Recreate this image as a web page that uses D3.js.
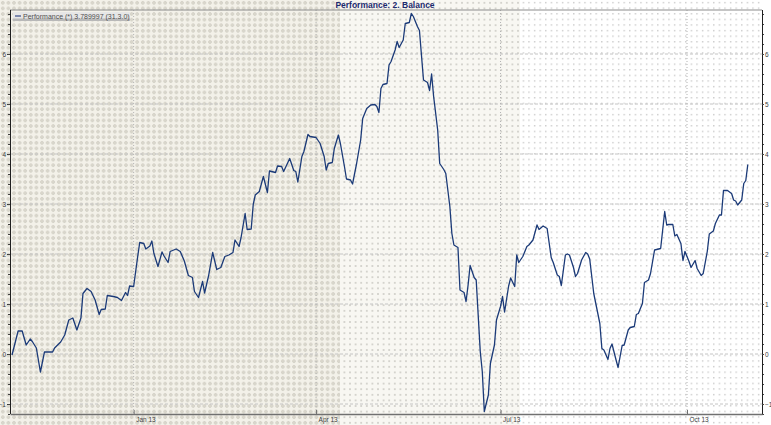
<!DOCTYPE html>
<html>
<head>
<meta charset="utf-8">
<script src="https://cdn.jsdelivr.net/npm/d3@7"></script>
<style>
  body { margin: 0; background: #fff; }
  svg { display: block; font-family: "Liberation Sans", Arial, sans-serif; }
  .axis text { font-size: 6.5px; fill: #404040; }
</style>
</head>
<body>
<svg width="771" height="425"></svg>
<script>
let dates = [
  "2012-11-02","2012-11-05","2012-11-07","2012-11-09","2012-11-11","2012-11-12","2012-11-14","2012-11-16",
  "2012-11-18","2012-11-22","2012-11-23","2012-11-26","2012-11-28","2012-11-30","2012-12-02","2012-12-04",
  "2012-12-06","2012-12-07","2012-12-09","2012-12-11","2012-12-13","2012-12-15","2012-12-16","2012-12-18",
  "2012-12-19","2012-12-22","2012-12-24","2012-12-26","2012-12-28","2012-12-29","2012-12-30","2013-01-01",
  "2013-01-03","2013-01-04","2013-01-06","2013-01-07","2013-01-09","2013-01-10","2013-01-11","2013-01-13",
  "2013-01-15","2013-01-16","2013-01-18","2013-01-19","2013-01-22","2013-01-24","2013-01-26","2013-01-28",
  "2013-01-30","2013-01-31","2013-02-02","2013-02-04","2013-02-05","2013-02-07","2013-02-09","2013-02-11",
  "2013-02-13","2013-02-15","2013-02-17","2013-02-19","2013-02-20","2013-02-22","2013-02-23","2013-02-25",
  "2013-02-26","2013-02-28","2013-03-01","2013-03-02","2013-03-04","2013-03-06","2013-03-08","2013-03-09",
  "2013-03-12","2013-03-13","2013-03-15","2013-03-16","2013-03-19","2013-03-21","2013-03-22","2013-03-23",
  "2013-03-25","2013-03-26","2013-03-28","2013-03-29","2013-04-01","2013-04-03","2013-04-05","2013-04-06",
  "2013-04-07","2013-04-09","2013-04-10","2013-04-12","2013-04-13","2013-04-15","2013-04-16","2013-04-18",
  "2013-04-19","2013-04-21","2013-04-23","2013-04-24","2013-04-26","2013-04-28","2013-04-30","2013-05-01",
  "2013-05-02","2013-05-03","2013-05-04","2013-05-06","2013-05-07","2013-05-08","2013-05-10","2013-05-11",
  "2013-05-12","2013-05-14","2013-05-15","2013-05-17","2013-05-18","2013-05-19","2013-05-21","2013-05-22",
  "2013-05-24","2013-05-26","2013-05-27","2013-05-28","2013-05-29","2013-05-31","2013-06-01","2013-06-03",
  "2013-06-04","2013-06-06","2013-06-07","2013-06-08","2013-06-10","2013-06-11","2013-06-13","2013-06-14",
  "2013-06-15","2013-06-16","2013-06-18","2013-06-19","2013-06-21","2013-06-22","2013-06-23","2013-06-25",
  "2013-06-26","2013-06-28","2013-06-29","2013-07-01","2013-07-02","2013-07-03","2013-07-05","2013-07-06",
  "2013-07-08","2013-07-09","2013-07-10","2013-07-12","2013-07-14","2013-07-15","2013-07-17","2013-07-19",
  "2013-07-20","2013-07-22","2013-07-24","2013-07-26","2013-07-27","2013-07-29","2013-07-30","2013-07-31",
  "2013-08-02","2013-08-03","2013-08-04","2013-08-06","2013-08-07","2013-08-08","2013-08-10","2013-08-12",
  "2013-08-13","2013-08-14","2013-08-16","2013-08-17","2013-08-19","2013-08-20","2013-08-21","2013-08-23",
  "2013-08-24","2013-08-25","2013-08-27","2013-08-28","2013-08-30","2013-08-31","2013-09-02","2013-09-03",
  "2013-09-05","2013-09-06","2013-09-07","2013-09-09","2013-09-10","2013-09-12","2013-09-13","2013-09-15",
  "2013-09-16","2013-09-18","2013-09-20","2013-09-21","2013-09-22","2013-09-24","2013-09-25","2013-09-26",
  "2013-09-28","2013-09-29","2013-09-30","2013-10-02","2013-10-03","2013-10-05","2013-10-06","2013-10-08",
  "2013-10-09","2013-10-11","2013-10-12","2013-10-14","2013-10-15","2013-10-17","2013-10-18","2013-10-19",
  "2013-10-21","2013-10-23","2013-10-24","2013-10-25","2013-10-26","2013-10-28","2013-10-29","2013-10-30",
  "2013-10-31"
];

let values = [
  -0.02, 0.46, 0.46, 0.18, 0.30, 0.25, 0.12, -0.36,
  0.04, 0.04, 0.12, 0.24, 0.38, 0.68, 0.72, 0.48,
  0.72, 1.21, 1.31, 1.25, 1.08, 0.79, 0.89, 0.90,
  1.17, 1.15, 1.13, 1.07, 1.23, 1.17, 1.36, 1.35,
  1.95, 2.23, 2.21, 2.10, 2.16, 2.26, 2.01, 1.75,
  2.04, 1.96, 1.83, 2.05, 2.10, 2.05, 1.86, 1.57,
  1.53, 1.25, 1.13, 1.45, 1.22, 1.57, 2.03, 1.69,
  1.73, 1.95, 1.98, 2.03, 2.28, 2.15, 2.33, 2.81,
  2.49, 2.50, 2.99, 3.18, 3.25, 3.55, 3.23, 3.66,
  3.63, 3.76, 3.75, 3.65, 3.91, 3.67, 3.65, 3.44,
  3.95, 4.05, 4.39, 4.35, 4.33, 4.21, 3.95, 3.68,
  3.81, 3.83, 4.11, 4.38, 4.21, 3.75, 3.50, 3.48,
  3.40, 3.81, 4.28, 4.71, 4.91, 4.98, 4.99, 4.95,
  4.83, 5.31, 5.39, 5.41, 5.78, 5.85, 6.08, 6.25,
  6.13, 6.28, 6.61, 6.63, 6.81, 6.75, 6.55, 6.47,
  5.48, 5.43, 5.27, 5.60, 5.15, 4.48, 3.81, 3.69,
  3.61, 2.95, 2.41, 2.18, 2.13, 1.28, 1.23, 1.05,
  1.38, 1.77, 1.53, 1.48, 0.05, -0.35, -1.15, -0.82,
  -0.19, 0.18, 0.68, 0.95, 1.15, 0.84, 1.36, 1.52,
  1.35, 1.98, 1.83, 1.95, 2.15, 2.18, 2.28, 2.58,
  2.49, 2.56, 2.51, 1.93, 1.83, 1.58, 1.55, 1.37,
  1.98, 2.00, 1.98, 1.73, 1.55, 1.61, 1.88, 2.03,
  2.00, 1.90, 1.21, 1.01, 0.61, 0.11, 0.08, -0.11,
  0.11, 0.20, -0.12, -0.27, 0.17, 0.18, 0.48, 0.53,
  0.55, 0.79, 0.81, 1.01, 1.43, 1.48, 1.61, 2.08,
  2.09, 2.11, 2.85, 2.58, 2.59, 2.59, 2.36, 2.39,
  2.21, 1.87, 2.05, 1.85, 1.73, 1.87, 1.71, 1.57,
  1.61, 2.05, 2.40, 2.46, 2.61, 2.78, 2.78, 3.27,
  3.27, 3.21, 3.08, 3.06, 2.98, 3.08, 3.41, 3.47,
  3.79
];

let xTickDates = ["2013-01-01", "2013-04-01", "2013-07-01", "2013-10-01"];
let xTickLabels = ["Jan 13", "Apr 13", "Jul 13", "Oct 13"];
let yTicks = [-1, 0, 1, 2, 3, 4, 5, 6];

let title = "Performance: 2. Balance";
let legendText = "Performance (*) 3.789997 (31.3.0)";

let parse = d3.timeParse("%Y-%m-%d");
let points = dates.map((d, i) => ({date: parse(d), value: values[i]}));

let plot = {left: 10, right: 762, top: 10, bottom: 414};

let x = d3.scaleTime()
    .domain([parse("2012-11-01"), parse("2013-11-07")])
    .range([plot.left, plot.right]);
let y = d3.scaleLinear()
    .domain([-1.2, 6.88])
    .range([plot.bottom, plot.top]);

let svg = d3.select("svg");
let defs = svg.append("defs");

// dotted backgrounds, denser and warmer on the left
let pa = defs.append("pattern").attr("id", "pa")
    .attr("width", 5.6).attr("height", 5.6).attr("patternUnits", "userSpaceOnUse");
pa.append("rect").attr("width", 5.6).attr("height", 5.6).attr("fill", "#f3f1e9");
pa.append("circle").attr("cx", 2.8).attr("cy", 2.8).attr("r", 1.4)
    .attr("fill", "#dedbd0").attr("stroke", "#c4c1b6").attr("stroke-width", 0.6);

let pb = defs.append("pattern").attr("id", "pb")
    .attr("width", 5.6).attr("height", 5.6).attr("patternUnits", "userSpaceOnUse");
pb.append("rect").attr("width", 5.6).attr("height", 5.6).attr("fill", "#f8f7f2");
pb.append("rect").attr("x", 2).attr("y", 2).attr("width", 1.6).attr("height", 1.6).attr("fill", "#c8c7c0");

let pc = defs.append("pattern").attr("id", "pc")
    .attr("width", 5.6).attr("height", 5.6).attr("patternUnits", "userSpaceOnUse");
pc.append("rect").attr("width", 5.6).attr("height", 5.6).attr("fill", "#ffffff");
pc.append("rect").attr("x", 2).attr("y", 2).attr("width", 1.2).attr("height", 1.2).attr("fill", "#b8b8b8");

svg.append("rect").attr("x", 0).attr("y", 0).attr("width", 340).attr("height", 425).attr("fill", "url(#pa)");
svg.append("rect").attr("x", 340).attr("y", 0).attr("width", 180).attr("height", 425).attr("fill", "url(#pb)");
svg.append("rect").attr("x", 520).attr("y", 0).attr("width", plot.right - 520).attr("height", 425).attr("fill", "url(#pc)");

// grid
svg.append("g").selectAll("line").data(yTicks).enter().append("line")
    .attr("x1", plot.left).attr("x2", plot.right)
    .attr("y1", d => y(d)).attr("y2", d => y(d))
    .attr("stroke", "#c4c4c4").attr("stroke-dasharray", "3,2");
svg.append("g").selectAll("line").data(xTickDates).enter().append("line")
    .attr("x1", d => x(parse(d))).attr("x2", d => x(parse(d)))
    .attr("y1", plot.top).attr("y2", plot.bottom)
    .attr("stroke", "#b4b4b4").attr("stroke-dasharray", "1,2");

// top frame line
svg.append("line").attr("x1", plot.left).attr("x2", plot.right).attr("y1", plot.top).attr("y2", plot.top)
    .attr("stroke", "#8c8c8c");

// axes
let minor = d3.range(-12, 69, 2).map(v => v / 10);
let frame = "M0.5," + plot.top + "V" + plot.bottom;

svg.append("g").attr("class", "axis")
    .attr("transform", "translate(" + plot.left + ",0)")
    .call(d3.axisLeft(y).tickValues(minor).tickSize(2).tickFormat(""))
    .call(g => g.select(".domain").remove());
svg.append("g").attr("class", "axis")
    .attr("transform", "translate(" + plot.left + ",0)")
    .call(d3.axisLeft(y).tickValues(yTicks).tickSize(3).tickSizeOuter(0).tickPadding(1).tickFormat(d3.format("d")))
    .call(g => g.select(".domain").attr("stroke", "#202020").attr("d", frame));

svg.append("g").attr("class", "axis")
    .attr("transform", "translate(" + plot.right + ",0)")
    .call(d3.axisRight(y).tickValues(minor).tickSize(2).tickFormat(""))
    .call(g => g.select(".domain").remove());
svg.append("g").attr("class", "axis")
    .attr("transform", "translate(" + plot.right + ",0)")
    .call(d3.axisRight(y).tickValues(yTicks).tickSize(2).tickSizeOuter(0).tickPadding(1).tickFormat(d3.format("d")))
    .call(g => g.select(".domain").attr("stroke", "#202020").attr("d", frame));

svg.selectAll(".axis .tick line").attr("stroke", "#404040");

let xAxis = svg.append("g").attr("class", "axis")
    .attr("transform", "translate(0," + plot.bottom + ")")
    .call(d3.axisBottom(x).tickValues(xTickDates.map(parse)).tickSize(-4).tickSizeOuter(0)
      .tickFormat((d, i) => xTickLabels[i]));
xAxis.select(".domain").attr("stroke", "#707070").attr("stroke-width", 1.5);
xAxis.selectAll(".tick line").attr("stroke", "#707070");
xAxis.selectAll(".tick text").attr("text-anchor", "start").attr("x", 2).attr("y", 3).attr("dy", "0.71em");

// series
let line = d3.line().x(d => x(d.date)).y(d => y(d.value));
svg.append("path").datum(points)
    .attr("d", line)
    .attr("fill", "none")
    .attr("stroke", "#1b3a78")
    .attr("stroke-width", 1.3)
    .attr("stroke-linejoin", "round");

// title
svg.append("text")
    .attr("x", 385).attr("y", 8)
    .attr("text-anchor", "middle")
    .attr("font-size", "8.5px").attr("font-weight", "bold")
    .attr("fill", "#1c2a6e")
    .text(title);

// legend
let legend = svg.append("g").attr("transform", "translate(13,12)");
legend.append("rect").attr("width", 117).attr("height", 9).attr("fill", "#e6e6e6");
legend.append("rect").attr("y", 6.5).attr("width", 117).attr("height", 2.5).attr("fill", "#b8b8b8");
legend.append("line").attr("x1", 2).attr("x2", 8).attr("y1", 4).attr("y2", 4)
    .attr("stroke", "#5a6a9a").attr("stroke-width", 1.5);
legend.append("text").attr("x", 10).attr("y", 6.5)
    .attr("font-size", "7px").attr("fill", "#505050")
    .text(legendText);
</script>
</body>
</html>
